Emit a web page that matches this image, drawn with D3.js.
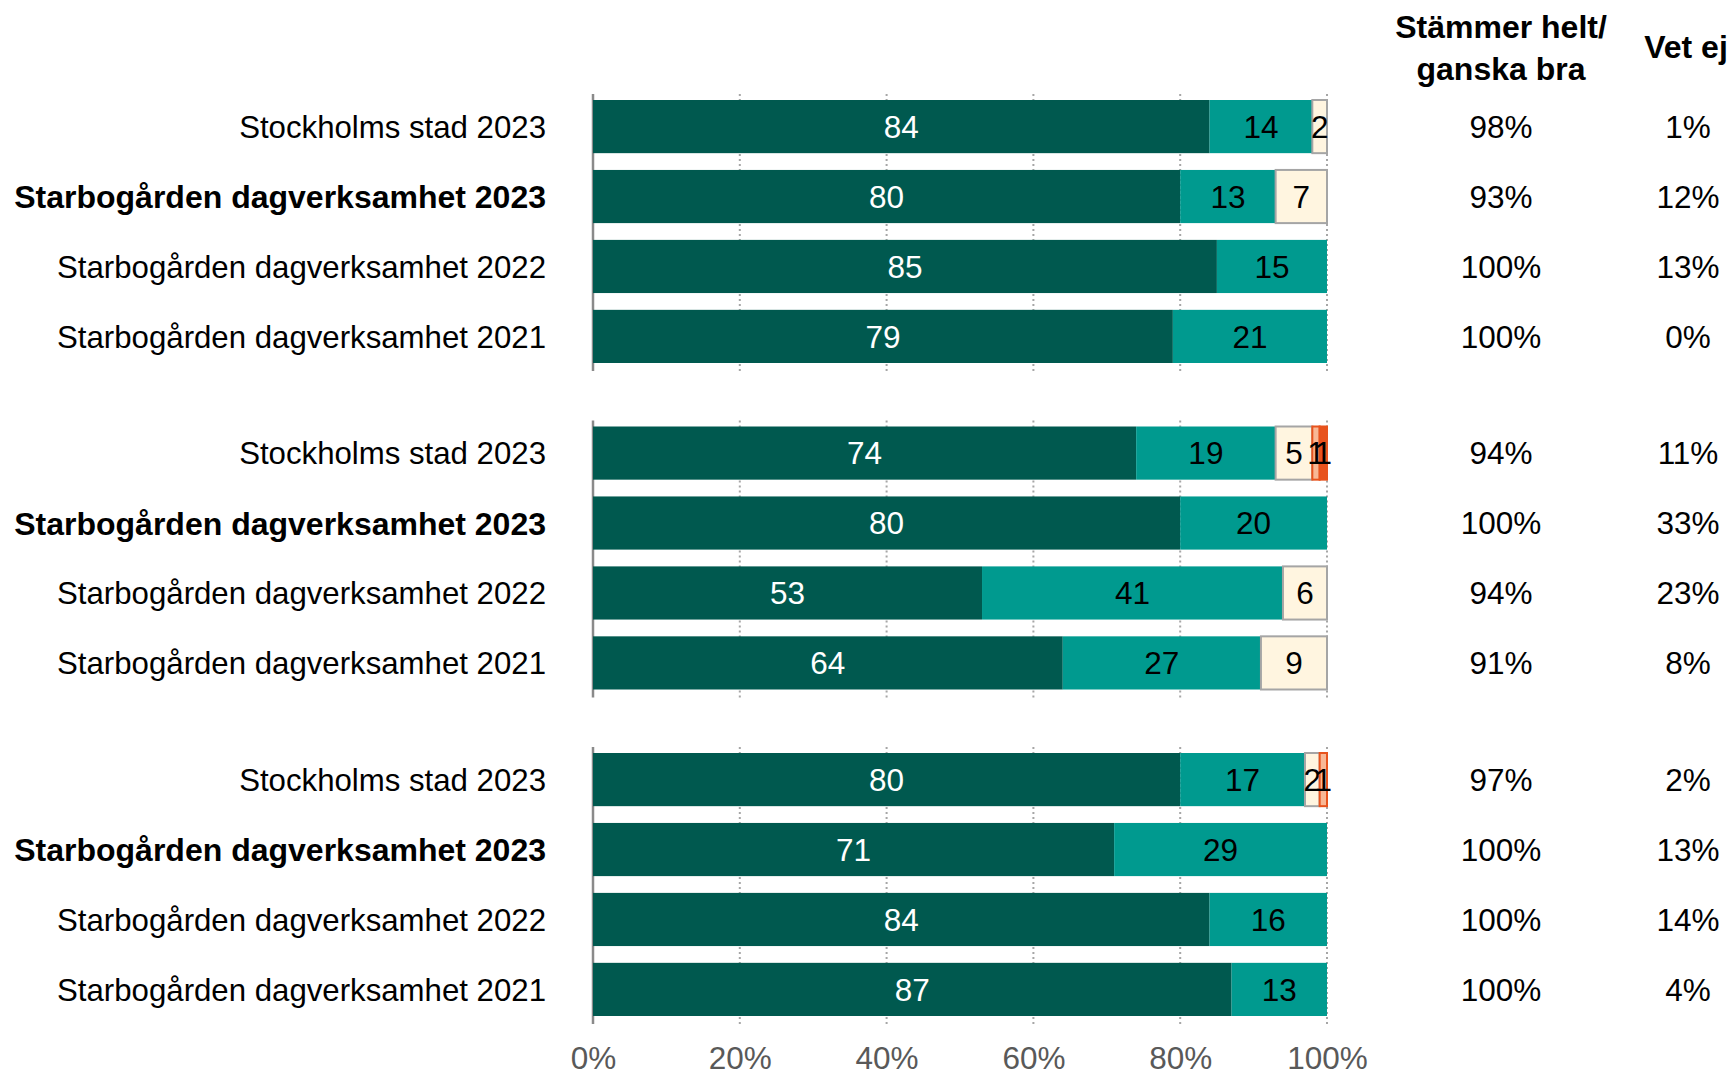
<!DOCTYPE html>
<html>
<head>
<meta charset="utf-8">
<script src="https://cdn.jsdelivr.net/npm/d3@7"></script>
<style>
  body { margin: 0; background: #fff; }
  svg text { font-family: "Liberation Sans", Arial, sans-serif; }
</style>
</head>
<body>
<div id="container"></div>
<script>
// rows: 3 question groups x 4 units
var rowLabels = ["Stockholms stad 2023", "Starbogården dagverksamhet 2023",
                 "Starbogården dagverksamhet 2022", "Starbogården dagverksamhet 2021"];
var boldRow = 1;
var groups = [0, 1, 2];

// answer categories (percent), one value per row, group by group
var keys = ["heltBra", "ganskaBra", "ganskaDaligt", "mycketDaligt", "inteAlls"];
var heltBra      = [84, 80, 85, 79,  74, 80, 53, 64,  80, 71, 84, 87];
var ganskaBra    = [14, 13, 15, 21,  19, 20, 41, 27,  17, 29, 16, 13];
var ganskaDaligt = [ 2,  7,  0,  0,   5,  0,  6,  9,   2,  0,  0,  0];
var mycketDaligt = [ 0,  0,  0,  0,   1,  0,  0,  0,   1,  0,  0,  0];
var inteAlls     = [ 0,  0,  0,  0,   1,  0,  0,  0,   0,  0,  0,  0];

// right hand columns
var braTotal = [98, 93, 100, 100,  94, 100, 94, 91,  97, 100, 100, 100];
var vetEj    = [ 1, 12,  13,   0,  11,  33, 23,  8,   2,  13,  14,   4];

var xTicks = [0, 20, 40, 60, 80, 100];

var width = 1734, height = 1075;
var fills   = { heltBra: "#00594f", ganskaBra: "#009a8f", ganskaDaligt: "#fff5e0", mycketDaligt: "#f8b896", inteAlls: "#e8531d" };
var strokes = { heltBra: "none", ganskaBra: "none", ganskaDaligt: "#a5a5a5", mycketDaligt: "#e8531d", inteAlls: "#e8531d" };
var textCol = { heltBra: "#fff", ganskaBra: "#000", ganskaDaligt: "#000", mycketDaligt: "#000", inteAlls: "#000" };

var rows = heltBra.map(function(d, i) {
  return { i: i, g: Math.floor(i / 4), r: i % 4,
           heltBra: heltBra[i], ganskaBra: ganskaBra[i], ganskaDaligt: ganskaDaligt[i],
           mycketDaligt: mycketDaligt[i], inteAlls: inteAlls[i] };
});
var stacked = d3.stack().keys(keys)(rows);

var svg = d3.select("#container").append("svg")
  .attr("width", width).attr("height", height);

var x = d3.scaleLinear().domain([0, 100]).range([593, 1327]);
var yGroup = d3.scaleBand().domain(groups).range([100, 1016]).paddingInner(0.1945);
var yRow = d3.scaleBand().domain([0, 1, 2, 3]).range([0, yGroup.bandwidth()]).paddingInner(0.24);
function yPos(d) { return yGroup(d.g) + yRow(d.r); }

// gridlines and axis line per group
groups.forEach(function(g) {
  var top = yGroup(g) - 6, bottom = yGroup(g) + yGroup.bandwidth() + 8;
  svg.append("g").selectAll("line").data(xTicks.slice(1)).enter().append("line")
    .attr("x1", function(d) { return x(d); }).attr("x2", function(d) { return x(d); })
    .attr("y1", top).attr("y2", bottom)
    .attr("stroke", "#a6a6a6").attr("stroke-width", 2).attr("stroke-dasharray", "2,3");
  svg.append("line")
    .attr("x1", x(0)).attr("x2", x(0)).attr("y1", top).attr("y2", bottom)
    .attr("stroke", "#8a8a8a").attr("stroke-width", 2.5);
});

// bars
var layer = svg.selectAll("g.layer").data(stacked).enter().append("g").attr("class", "layer");
layer.selectAll("rect").data(function(s) { return s.map(function(d) { d.key = s.key; return d; }); })
  .enter().filter(function(d) { return d[1] - d[0] > 0; })
  .append("rect")
  .attr("x", function(d) { return x(d[0]); })
  .attr("y", function(d) { return yPos(d.data); })
  .attr("width", function(d) { return x(d[1]) - x(d[0]); })
  .attr("height", yRow.bandwidth())
  .attr("fill", function(d) { return fills[d.key]; })
  .attr("stroke", function(d) { return strokes[d.key]; })
  .attr("stroke-width", 2);

// value labels
layer.selectAll("text").data(function(s) { return s; })
  .enter().filter(function(d) { return d[1] - d[0] > 0; })
  .append("text")
  .attr("x", function(d) { return x((d[0] + d[1]) / 2); })
  .attr("y", function(d) { return yPos(d.data) + yRow.bandwidth() / 2; })
  .attr("dy", "0.36em")
  .attr("text-anchor", "middle")
  .style("font-size", "31.5px")
  .attr("fill", function(d) { return textCol[d.key]; })
  .text(function(d) { return d[1] - d[0]; });

// row labels
svg.append("g").selectAll("text").data(rows).enter().append("text")
  .attr("x", 546)
  .attr("y", function(d) { return yPos(d) + yRow.bandwidth() / 2; })
  .attr("dy", "0.36em")
  .attr("text-anchor", "end")
  .style("font-size", function(d) { return d.r === boldRow ? "32px" : "31.2px"; })
  .style("font-weight", function(d) { return d.r === boldRow ? "bold" : "normal"; })
  .text(function(d) { return rowLabels[d.r]; });

// right columns
svg.append("g").selectAll("text").data(rows).enter().append("text")
  .attr("x", 1501)
  .attr("y", function(d) { return yPos(d) + yRow.bandwidth() / 2; })
  .attr("dy", "0.36em").attr("text-anchor", "middle")
  .style("font-size", "31.5px")
  .text(function(d) { return braTotal[d.i] + "%"; });
svg.append("g").selectAll("text").data(rows).enter().append("text")
  .attr("x", 1688)
  .attr("y", function(d) { return yPos(d) + yRow.bandwidth() / 2; })
  .attr("dy", "0.36em").attr("text-anchor", "middle")
  .style("font-size", "31.5px")
  .text(function(d) { return vetEj[d.i] + "%"; });

// column headers
svg.append("text").attr("x", 1501).attr("y", 26).attr("dy", "0.36em")
  .attr("text-anchor", "middle").style("font-size", "32px").style("font-weight", "bold")
  .text("Stämmer helt/");
svg.append("text").attr("x", 1501).attr("y", 68).attr("dy", "0.36em")
  .attr("text-anchor", "middle").style("font-size", "32px").style("font-weight", "bold")
  .text("ganska bra");
svg.append("text").attr("x", 1686).attr("y", 46).attr("dy", "0.36em")
  .attr("text-anchor", "middle").style("font-size", "32px").style("font-weight", "bold")
  .text("Vet ej");

// x axis labels
var xAxis = d3.axisBottom(x).tickValues(xTicks).tickSize(0).tickPadding(0)
  .tickFormat(function(d) { return d + "%"; });
var ax = svg.append("g").attr("transform", "translate(0,1047)").call(xAxis);
ax.select(".domain").remove();
ax.selectAll("text").style("font-size", "31.5px").attr("fill", "#595959")
  .style("font-family", "'Liberation Sans', Arial, sans-serif");
</script>
</body>
</html>
